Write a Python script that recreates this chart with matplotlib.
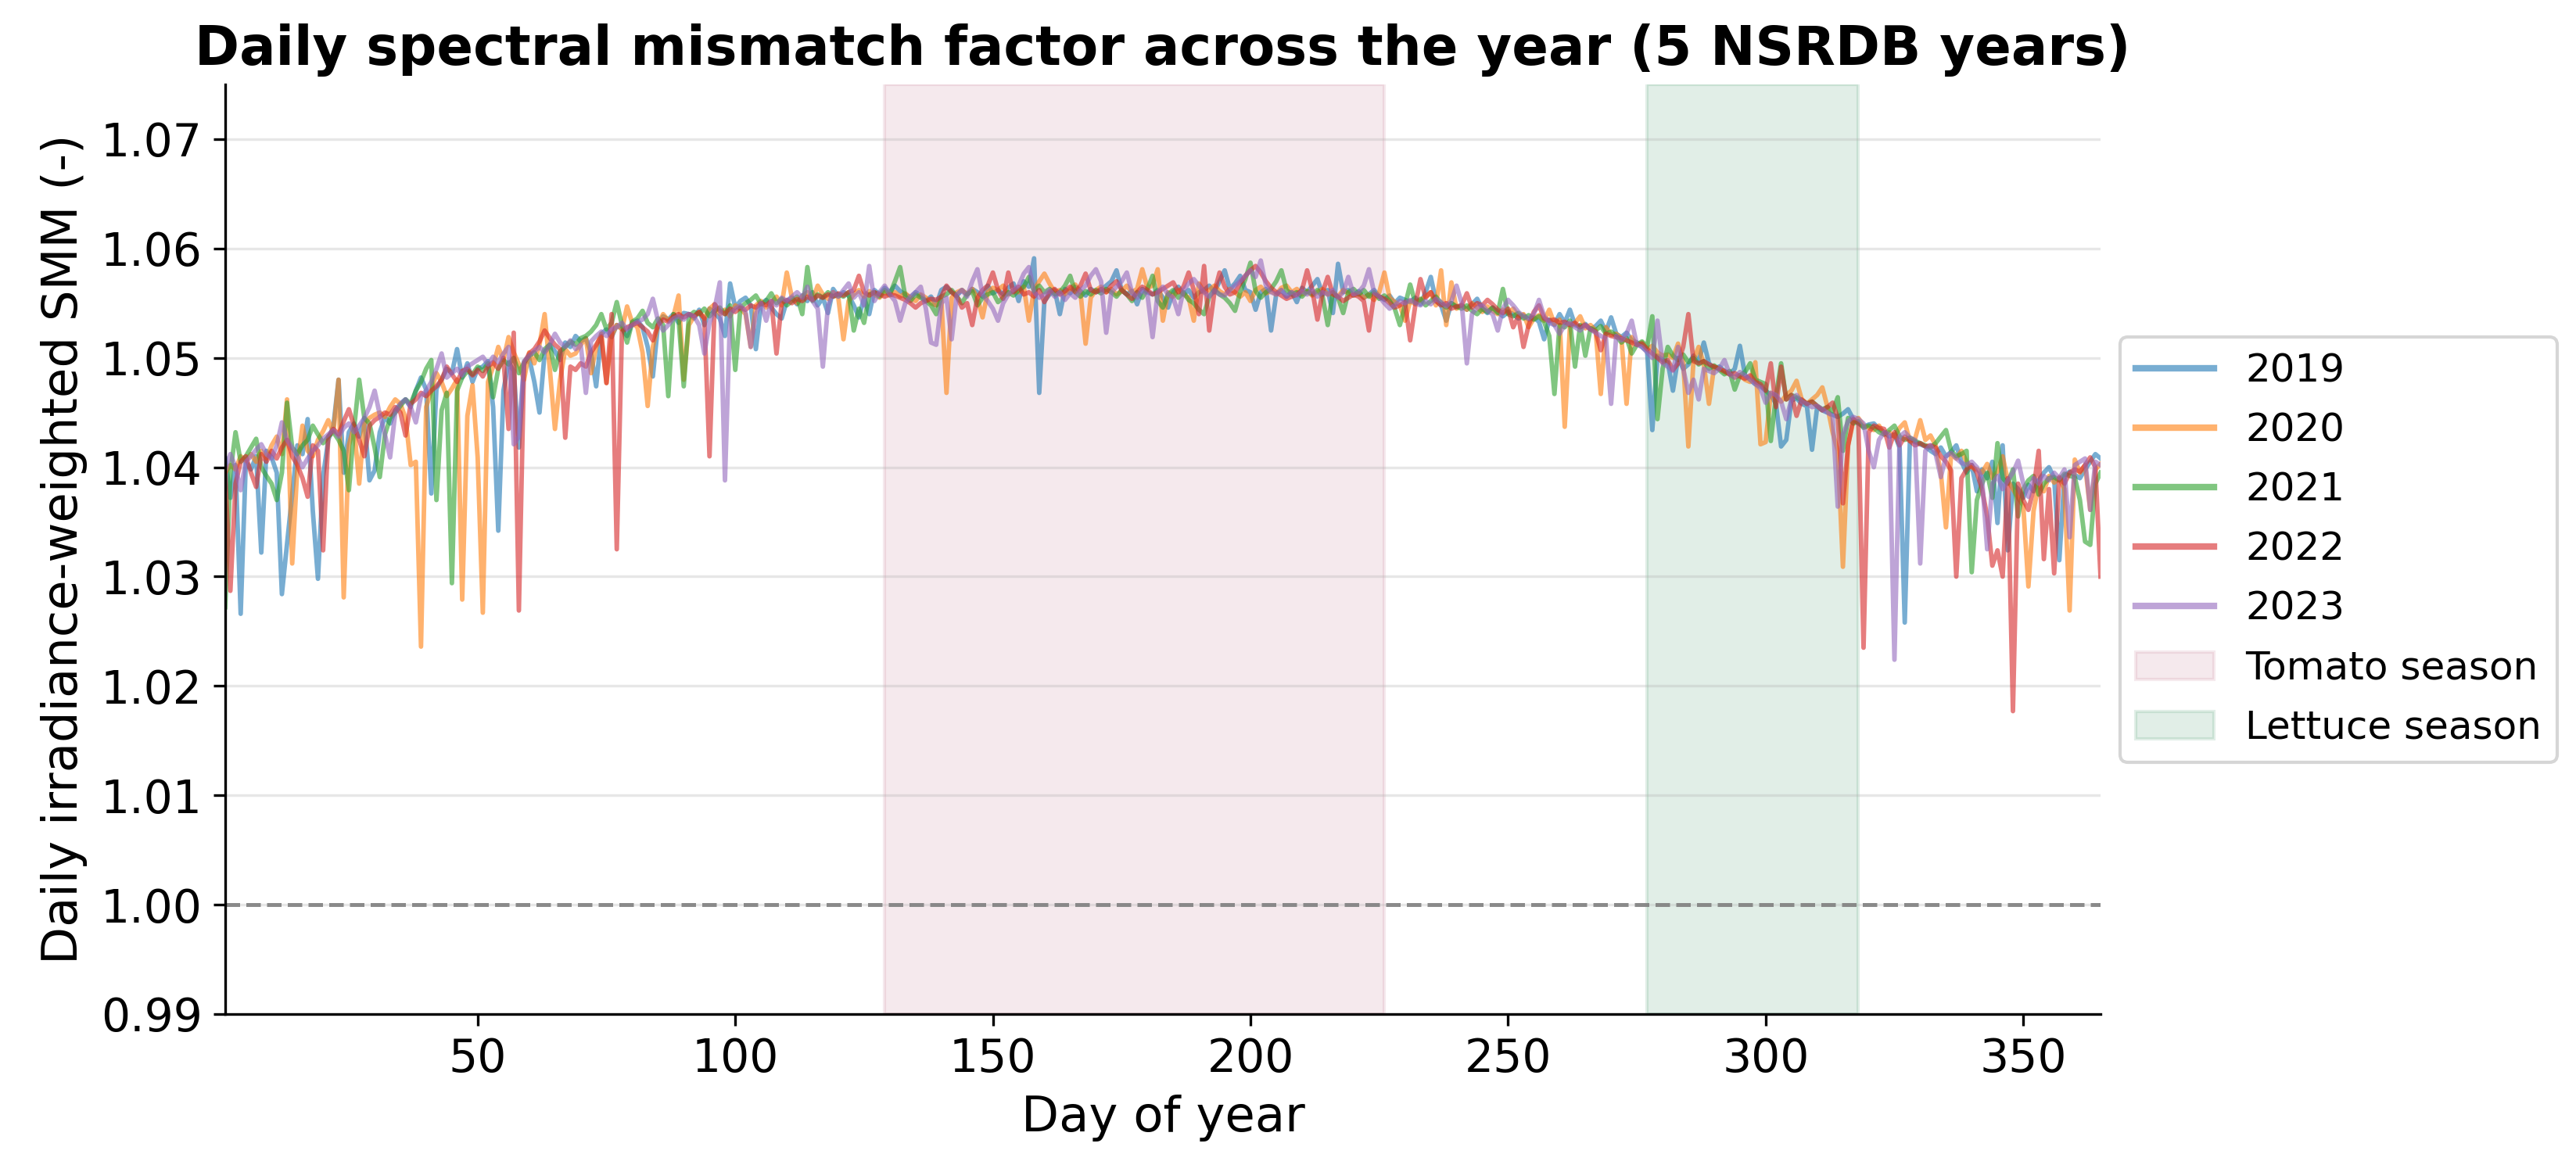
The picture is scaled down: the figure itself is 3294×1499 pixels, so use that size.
import numpy as np
import matplotlib
matplotlib.use("Agg")
import matplotlib.pyplot as plt

years = ["2019", "2020", "2021", "2022", "2023"]
days = list(range(1, 366))

smm_2019 = [
    1.0408, 1.0372, 1.0402, 1.0266, 1.0405, 1.0398, 1.0410, 1.0322, 1.0415, 1.0409,
    1.0395, 1.0284, 1.0330, 1.0375, 1.0420, 1.0412, 1.0444, 1.0360, 1.0298, 1.0392,
    1.0425, 1.0438, 1.0480, 1.0395, 1.0432, 1.0440, 1.0428, 1.0445, 1.0388, 1.0397,
    1.0432, 1.0446, 1.0440, 1.0452, 1.0458, 1.0462, 1.0455, 1.0470, 1.0482, 1.0471,
    1.0376, 1.0472, 1.0480, 1.0490, 1.0486, 1.0508, 1.0482, 1.0495, 1.0478, 1.0490,
    1.0492, 1.0497, 1.0455, 1.0342, 1.0470, 1.0496, 1.0488, 1.0418, 1.0494, 1.0500,
    1.0478, 1.0450, 1.0505, 1.0512, 1.0506, 1.0498, 1.0514, 1.0510, 1.0520, 1.0515,
    1.0518, 1.0505, 1.0474, 1.0522, 1.0526, 1.0519, 1.0530, 1.0527, 1.0520, 1.0532,
    1.0534, 1.0528, 1.0510, 1.0483, 1.0530, 1.0538, 1.0535, 1.0540, 1.0532, 1.0541,
    1.0540, 1.0536, 1.0544, 1.0530, 1.0545, 1.0541, 1.0536, 1.0520, 1.0568, 1.0546,
    1.0552, 1.0555, 1.0548, 1.0508, 1.0549, 1.0553, 1.0546, 1.0540, 1.0536, 1.0552,
    1.0555, 1.0549, 1.0557, 1.0552, 1.0560, 1.0548, 1.0555, 1.0541, 1.0563, 1.0556,
    1.0560, 1.0557, 1.0548, 1.0537, 1.0555, 1.0540, 1.0562, 1.0558, 1.0564, 1.0560,
    1.0566, 1.0561, 1.0558, 1.0555, 1.0560, 1.0557, 1.0552, 1.0556, 1.0548, 1.0562,
    1.0565, 1.0560, 1.0557, 1.0562, 1.0558, 1.0563, 1.0560, 1.0556, 1.0566, 1.0559,
    1.0562, 1.0558, 1.0564, 1.0568, 1.0552, 1.0570, 1.0565, 1.0591, 1.0468, 1.0552,
    1.0558, 1.0562, 1.0540, 1.0563, 1.0559, 1.0565, 1.0561, 1.0557, 1.0563, 1.0560,
    1.0562, 1.0566, 1.0570, 1.0580, 1.0562, 1.0558, 1.0561, 1.0549, 1.0563, 1.0560,
    1.0558, 1.0562, 1.0555, 1.0546, 1.0560, 1.0565, 1.0558, 1.0562, 1.0555, 1.0560,
    1.0562, 1.0566, 1.0560, 1.0570, 1.0580, 1.0563, 1.0568, 1.0575, 1.0562, 1.0560,
    1.0544, 1.0560, 1.0563, 1.0525, 1.0558, 1.0562, 1.0556, 1.0560, 1.0551, 1.0564,
    1.0560, 1.0566, 1.0572, 1.0558, 1.0562, 1.0541, 1.0586, 1.0560, 1.0562, 1.0557,
    1.0561, 1.0555, 1.0558, 1.0562, 1.0556, 1.0553, 1.0557, 1.0550, 1.0555, 1.0553,
    1.0551, 1.0555, 1.0549, 1.0560, 1.0574, 1.0552, 1.0548, 1.0534, 1.0550, 1.0546,
    1.0548, 1.0544, 1.0549, 1.0554, 1.0545, 1.0541, 1.0546, 1.0542, 1.0538, 1.0542,
    1.0540, 1.0536, 1.0539, 1.0535, 1.0537, 1.0533, 1.0517, 1.0535, 1.0530, 1.0540,
    1.0532, 1.0544, 1.0530, 1.0528, 1.0531, 1.0526, 1.0529, 1.0534, 1.0524, 1.0537,
    1.0522, 1.0519, 1.0523, 1.0516, 1.0514, 1.0510, 1.0506, 1.0434, 1.0502, 1.0498,
    1.0496, 1.0470, 1.0500, 1.0490, 1.0494, 1.0502, 1.0497, 1.0514, 1.0495, 1.0490,
    1.0492, 1.0488, 1.0485, 1.0490, 1.0511, 1.0484, 1.0480, 1.0476, 1.0474, 1.0470,
    1.0466, 1.0458, 1.0419, 1.0425, 1.0461, 1.0463, 1.0458, 1.0456, 1.0416, 1.0455,
    1.0452, 1.0450, 1.0448, 1.0446, 1.0449, 1.0453, 1.0444, 1.0440, 1.0437, 1.0439,
    1.0440, 1.0435, 1.0432, 1.0428, 1.0430, 1.0418, 1.0258, 1.0425, 1.0423, 1.0421,
    1.0419, 1.0415, 1.0412, 1.0418, 1.0410, 1.0414, 1.0420, 1.0405, 1.0395, 1.0402,
    1.0378, 1.0398, 1.0390, 1.0405, 1.0349, 1.0420, 1.0324, 1.0385, 1.0380, 1.0372,
    1.0384, 1.0378, 1.0388, 1.0395, 1.0400, 1.0390, 1.0315, 1.0392, 1.0396, 1.0393,
    1.0390, 1.0398, 1.0405, 1.0412, 1.0408,
]

smm_2020 = [
    1.0395, 1.0402, 1.0398, 1.0410, 1.0406, 1.0412, 1.0405, 1.0415, 1.0408, 1.0420,
    1.0428, 1.0412, 1.0462, 1.0312, 1.0400, 1.0438, 1.0415, 1.0410, 1.0425, 1.0433,
    1.0443, 1.0432, 1.0480, 1.0281, 1.0420, 1.0438, 1.0385, 1.0440, 1.0445, 1.0448,
    1.0450, 1.0446, 1.0455, 1.0462, 1.0458, 1.0445, 1.0402, 1.0405, 1.0236, 1.0455,
    1.0470, 1.0486, 1.0478, 1.0465, 1.0472, 1.0480, 1.0279, 1.0447, 1.0475, 1.0409,
    1.0267, 1.0478, 1.0492, 1.0510, 1.0498, 1.0519, 1.0505, 1.0494, 1.0480, 1.0505,
    1.0495, 1.0512, 1.0540, 1.0490, 1.0435, 1.0480, 1.0508, 1.0502, 1.0504, 1.0512,
    1.0518, 1.0486, 1.0510, 1.0522, 1.0477, 1.0520, 1.0530, 1.0526, 1.0547, 1.0532,
    1.0528, 1.0505, 1.0456, 1.0510, 1.0530, 1.0540, 1.0534, 1.0538, 1.0557, 1.0480,
    1.0530, 1.0538, 1.0542, 1.0536, 1.0545, 1.0549, 1.0540, 1.0544, 1.0538, 1.0548,
    1.0545, 1.0540, 1.0510, 1.0548, 1.0552, 1.0546, 1.0550, 1.0556, 1.0548, 1.0578,
    1.0555, 1.0550, 1.0556, 1.0560, 1.0553, 1.0566, 1.0558, 1.0554, 1.0560, 1.0555,
    1.0517, 1.0552, 1.0558, 1.0562, 1.0556, 1.0561, 1.0558, 1.0555, 1.0560, 1.0557,
    1.0560, 1.0556, 1.0559, 1.0555, 1.0552, 1.0558, 1.0555, 1.0550, 1.0548, 1.0553,
    1.0468, 1.0555, 1.0560, 1.0562, 1.0558, 1.0563, 1.0555, 1.0537, 1.0560, 1.0564,
    1.0562, 1.0566, 1.0558, 1.0562, 1.0560, 1.0565, 1.0534, 1.0562, 1.0570, 1.0577,
    1.0568, 1.0560, 1.0562, 1.0558, 1.0563, 1.0567, 1.0560, 1.0513, 1.0555, 1.0562,
    1.0565, 1.0560, 1.0563, 1.0558, 1.0561, 1.0566, 1.0560, 1.0563, 1.0581, 1.0564,
    1.0566, 1.0581, 1.0534, 1.0560, 1.0556, 1.0562, 1.0558, 1.0555, 1.0534, 1.0568,
    1.0560, 1.0562, 1.0566, 1.0561, 1.0558, 1.0563, 1.0560, 1.0556, 1.0560, 1.0552,
    1.0562, 1.0565, 1.0559, 1.0561, 1.0558, 1.0564, 1.0566, 1.0560, 1.0563, 1.0558,
    1.0561, 1.0557, 1.0560, 1.0563, 1.0558, 1.0560, 1.0556, 1.0562, 1.0559, 1.0557,
    1.0559, 1.0555, 1.0558, 1.0553, 1.0560, 1.0578, 1.0555, 1.0551, 1.0548, 1.0534,
    1.0552, 1.0549, 1.0553, 1.0556, 1.0560, 1.0548, 1.0580, 1.0530, 1.0569, 1.0545,
    1.0548, 1.0544, 1.0550, 1.0546, 1.0542, 1.0547, 1.0543, 1.0540, 1.0544, 1.0541,
    1.0545, 1.0538, 1.0540, 1.0528, 1.0536, 1.0539, 1.0534, 1.0544, 1.0531, 1.0535,
    1.0437, 1.0528, 1.0532, 1.0538, 1.0527, 1.0530, 1.0525, 1.0467, 1.0528, 1.0521,
    1.0522, 1.0518, 1.0458, 1.0519, 1.0512, 1.0514, 1.0508, 1.0511, 1.0505, 1.0502,
    1.0503, 1.0500, 1.0513, 1.0496, 1.0419, 1.0498, 1.0510, 1.0494, 1.0458, 1.0492,
    1.0490, 1.0487, 1.0485, 1.0482, 1.0484, 1.0480, 1.0478, 1.0496, 1.0421, 1.0423,
    1.0468, 1.0464, 1.0460, 1.0466, 1.0470, 1.0479, 1.0462, 1.0458, 1.0462, 1.0466,
    1.0473, 1.0455, 1.0432, 1.0415, 1.0309, 1.0420, 1.0442, 1.0445, 1.0438, 1.0436,
    1.0434, 1.0438, 1.0430, 1.0432, 1.0428, 1.0436, 1.0441, 1.0424, 1.0426, 1.0443,
    1.0425, 1.0429, 1.0420, 1.0395, 1.0345, 1.0412, 1.0408, 1.0415, 1.0405, 1.0400,
    1.0398, 1.0395, 1.0403, 1.0390, 1.0396, 1.0410, 1.0388, 1.0380, 1.0372, 1.0365,
    1.0291, 1.0360, 1.0385, 1.0378, 1.0392, 1.0386, 1.0390, 1.0380, 1.0269, 1.0407,
    1.0395, 1.0402, 1.0361, 1.0398, 1.0403,
]

smm_2021 = [
    1.0272, 1.0395, 1.0432, 1.0405, 1.0410, 1.0418, 1.0426, 1.0400, 1.0392, 1.0385,
    1.0370, 1.0395, 1.0459, 1.0418, 1.0412, 1.0420, 1.0425, 1.0438, 1.0430, 1.0422,
    1.0428, 1.0432, 1.0425, 1.0415, 1.0379, 1.0435, 1.0480, 1.0445, 1.0440, 1.0418,
    1.0391, 1.0430, 1.0445, 1.0450, 1.0456, 1.0462, 1.0458, 1.0470, 1.0478, 1.0490,
    1.0498, 1.0370, 1.0452, 1.0468, 1.0294, 1.0470, 1.0482, 1.0488, 1.0485, 1.0492,
    1.0488, 1.0495, 1.0464, 1.0490, 1.0498, 1.0494, 1.0500, 1.0486, 1.0496, 1.0502,
    1.0505, 1.0498, 1.0508, 1.0512, 1.0489, 1.0506, 1.0510, 1.0515, 1.0512, 1.0518,
    1.0520, 1.0524, 1.0530, 1.0540, 1.0526, 1.0532, 1.0551, 1.0530, 1.0514, 1.0533,
    1.0536, 1.0543, 1.0532, 1.0528, 1.0536, 1.0530, 1.0465, 1.0540, 1.0535, 1.0474,
    1.0538, 1.0542, 1.0540, 1.0545, 1.0538, 1.0543, 1.0546, 1.0540, 1.0548, 1.0489,
    1.0546, 1.0550, 1.0553, 1.0557, 1.0549, 1.0552, 1.0559, 1.0550, 1.0554, 1.0548,
    1.0552, 1.0556, 1.0540, 1.0583, 1.0552, 1.0558, 1.0555, 1.0560, 1.0556, 1.0558,
    1.0556, 1.0560, 1.0525, 1.0545, 1.0532, 1.0558, 1.0560, 1.0556, 1.0562, 1.0558,
    1.0570, 1.0583, 1.0556, 1.0552, 1.0558, 1.0555, 1.0552, 1.0548, 1.0540, 1.0556,
    1.0558, 1.0562, 1.0556, 1.0550, 1.0558, 1.0561, 1.0548, 1.0555, 1.0558, 1.0560,
    1.0551, 1.0555, 1.0560, 1.0557, 1.0562, 1.0565, 1.0574, 1.0561, 1.0566, 1.0560,
    1.0563, 1.0558, 1.0560, 1.0566, 1.0575, 1.0560, 1.0556, 1.0561, 1.0558, 1.0562,
    1.0559, 1.0563, 1.0560, 1.0556, 1.0562, 1.0558, 1.0552, 1.0560, 1.0555, 1.0563,
    1.0575, 1.0552, 1.0546, 1.0558, 1.0562, 1.0555, 1.0560, 1.0553, 1.0550, 1.0544,
    1.0540, 1.0556, 1.0562, 1.0558, 1.0555, 1.0550, 1.0543, 1.0560, 1.0572, 1.0587,
    1.0561, 1.0555, 1.0560, 1.0563, 1.0570, 1.0580, 1.0562, 1.0558, 1.0560, 1.0556,
    1.0561, 1.0558, 1.0562, 1.0556, 1.0530, 1.0560, 1.0555, 1.0541, 1.0560, 1.0563,
    1.0558, 1.0562, 1.0556, 1.0560, 1.0554, 1.0557, 1.0552, 1.0545, 1.0530, 1.0548,
    1.0567, 1.0550, 1.0554, 1.0548, 1.0552, 1.0556, 1.0550, 1.0546, 1.0550, 1.0547,
    1.0545, 1.0548, 1.0543, 1.0540, 1.0545, 1.0542, 1.0546, 1.0541, 1.0563, 1.0540,
    1.0538, 1.0541, 1.0536, 1.0539, 1.0535, 1.0538, 1.0533, 1.0520, 1.0467, 1.0530,
    1.0528, 1.0534, 1.0492, 1.0530, 1.0502, 1.0527, 1.0525, 1.0529, 1.0522, 1.0524,
    1.0520, 1.0514, 1.0518, 1.0504, 1.0512, 1.0515, 1.0510, 1.0538, 1.0444, 1.0490,
    1.0510, 1.0502, 1.0498, 1.0503, 1.0496, 1.0500, 1.0494, 1.0497, 1.0490, 1.0493,
    1.0489, 1.0485, 1.0488, 1.0471, 1.0484, 1.0487, 1.0495, 1.0480, 1.0478, 1.0476,
    1.0424, 1.0465, 1.0495, 1.0462, 1.0466, 1.0464, 1.0461, 1.0458, 1.0460, 1.0456,
    1.0453, 1.0455, 1.0451, 1.0464, 1.0415, 1.0445, 1.0440, 1.0442, 1.0436, 1.0438,
    1.0436, 1.0432, 1.0430, 1.0434, 1.0438, 1.0428, 1.0425, 1.0427, 1.0424, 1.0422,
    1.0420, 1.0418, 1.0422, 1.0428, 1.0434, 1.0415, 1.0410, 1.0412, 1.0415, 1.0304,
    1.0370, 1.0385, 1.0395, 1.0372, 1.0422, 1.0390, 1.0385, 1.0398, 1.0355, 1.0380,
    1.0388, 1.0392, 1.0375, 1.0385, 1.0390, 1.0391, 1.0388, 1.0394, 1.0392, 1.0391,
    1.0370, 1.0332, 1.0329, 1.0385, 1.0395,
]

smm_2022 = [
    1.0395, 1.0287, 1.0385, 1.0405, 1.0410, 1.0395, 1.0382, 1.0412, 1.0405, 1.0415,
    1.0408, 1.0418, 1.0425, 1.0410, 1.0402, 1.0390, 1.0373, 1.0420, 1.0415, 1.0324,
    1.0428, 1.0435, 1.0430, 1.0442, 1.0453, 1.0438, 1.0425, 1.0410, 1.0438, 1.0443,
    1.0446, 1.0450, 1.0448, 1.0455, 1.0450, 1.0429, 1.0458, 1.0462, 1.0468, 1.0465,
    1.0470, 1.0474, 1.0480, 1.0492, 1.0485, 1.0478, 1.0488, 1.0490, 1.0484, 1.0489,
    1.0483, 1.0492, 1.0496, 1.0490, 1.0500, 1.0435, 1.0523, 1.0269, 1.0495, 1.0504,
    1.0508, 1.0515, 1.0525, 1.0518, 1.0512, 1.0508, 1.0427, 1.0492, 1.0489, 1.0495,
    1.0492, 1.0505, 1.0512, 1.0520, 1.0477, 1.0540, 1.0325, 1.0524, 1.0528, 1.0530,
    1.0532, 1.0528, 1.0524, 1.0516, 1.0530, 1.0535, 1.0533, 1.0538, 1.0540, 1.0537,
    1.0540, 1.0538, 1.0542, 1.0536, 1.0410, 1.0549, 1.0543, 1.0540, 1.0545, 1.0542,
    1.0546, 1.0544, 1.0548, 1.0546, 1.0550, 1.0548, 1.0552, 1.0504, 1.0550, 1.0553,
    1.0550, 1.0554, 1.0552, 1.0556, 1.0553, 1.0557, 1.0555, 1.0558, 1.0556, 1.0559,
    1.0557, 1.0560, 1.0562, 1.0575, 1.0560, 1.0557, 1.0560, 1.0558, 1.0556, 1.0558,
    1.0557, 1.0555, 1.0553, 1.0550, 1.0546, 1.0550, 1.0552, 1.0554, 1.0553, 1.0556,
    1.0566, 1.0560, 1.0556, 1.0546, 1.0550, 1.0530, 1.0555, 1.0562, 1.0566, 1.0578,
    1.0562, 1.0554, 1.0578, 1.0560, 1.0565, 1.0558, 1.0560, 1.0556, 1.0562, 1.0551,
    1.0560, 1.0563, 1.0558, 1.0561, 1.0565, 1.0560, 1.0566, 1.0577, 1.0562, 1.0560,
    1.0563, 1.0560, 1.0566, 1.0570, 1.0562, 1.0558, 1.0554, 1.0560, 1.0565, 1.0562,
    1.0558, 1.0560, 1.0563, 1.0566, 1.0569, 1.0560, 1.0565, 1.0578, 1.0562, 1.0540,
    1.0584, 1.0525, 1.0560, 1.0578, 1.0565, 1.0558, 1.0560, 1.0568, 1.0575, 1.0580,
    1.0584, 1.0578, 1.0570, 1.0564, 1.0560, 1.0557, 1.0554, 1.0556, 1.0558, 1.0562,
    1.0580, 1.0562, 1.0535, 1.0560, 1.0574, 1.0558, 1.0556, 1.0552, 1.0555, 1.0558,
    1.0556, 1.0552, 1.0525, 1.0558, 1.0556, 1.0554, 1.0550, 1.0546, 1.0548, 1.0551,
    1.0516, 1.0548, 1.0572, 1.0555, 1.0560, 1.0552, 1.0548, 1.0550, 1.0545, 1.0547,
    1.0548, 1.0559, 1.0546, 1.0550, 1.0548, 1.0553, 1.0549, 1.0544, 1.0541, 1.0545,
    1.0528, 1.0538, 1.0510, 1.0530, 1.0542, 1.0548, 1.0536, 1.0534, 1.0535, 1.0532,
    1.0533, 1.0530, 1.0532, 1.0528, 1.0530, 1.0526, 1.0524, 1.0507, 1.0522, 1.0520,
    1.0519, 1.0518, 1.0516, 1.0514, 1.0512, 1.0513, 1.0508, 1.0504, 1.0500, 1.0496,
    1.0498, 1.0489, 1.0495, 1.0510, 1.0540, 1.0497, 1.0495, 1.0497, 1.0494, 1.0492,
    1.0490, 1.0488, 1.0485, 1.0486, 1.0483, 1.0481, 1.0484, 1.0478, 1.0476, 1.0470,
    1.0495, 1.0455, 1.0492, 1.0462, 1.0466, 1.0447, 1.0462, 1.0458, 1.0460, 1.0456,
    1.0452, 1.0455, 1.0459, 1.0445, 1.0367, 1.0420, 1.0444, 1.0440, 1.0235, 1.0432,
    1.0438, 1.0436, 1.0435, 1.0418, 1.0432, 1.0420, 1.0428, 1.0424, 1.0420, 1.0422,
    1.0419, 1.0420, 1.0418, 1.0410, 1.0405, 1.0397, 1.0300, 1.0390, 1.0398, 1.0402,
    1.0395, 1.0380, 1.0355, 1.0310, 1.0324, 1.0300, 1.0390, 1.0177, 1.0385, 1.0370,
    1.0361, 1.0380, 1.0415, 1.0316, 1.0380, 1.0303, 1.0391, 1.0385, 1.0395, 1.0398,
    1.0396, 1.0402, 1.0409, 1.0400, 1.0300,
]

smm_2023 = [
    1.0398, 1.0412, 1.0400, 1.0379, 1.0405, 1.0410, 1.0416, 1.0421, 1.0412, 1.0408,
    1.0420, 1.0441, 1.0425, 1.0418, 1.0410, 1.0400, 1.0408, 1.0415, 1.0420, 1.0426,
    1.0430, 1.0434, 1.0428, 1.0436, 1.0440, 1.0432, 1.0438, 1.0445, 1.0455, 1.0470,
    1.0448, 1.0430, 1.0409, 1.0450, 1.0458, 1.0462, 1.0455, 1.0441, 1.0465, 1.0470,
    1.0478, 1.0490, 1.0504, 1.0482, 1.0486, 1.0490, 1.0484, 1.0492, 1.0495, 1.0498,
    1.0501, 1.0494, 1.0501, 1.0496, 1.0504, 1.0510, 1.0421, 1.0428, 1.0497, 1.0502,
    1.0506, 1.0510, 1.0505, 1.0512, 1.0522, 1.0514, 1.0510, 1.0516, 1.0508, 1.0512,
    1.0468, 1.0515, 1.0520, 1.0524, 1.0520, 1.0526, 1.0528, 1.0532, 1.0526, 1.0530,
    1.0533, 1.0535, 1.0540, 1.0554, 1.0534, 1.0525, 1.0530, 1.0536, 1.0538, 1.0535,
    1.0540, 1.0538, 1.0530, 1.0504, 1.0532, 1.0545, 1.0569, 1.0388, 1.0540, 1.0545,
    1.0548, 1.0542, 1.0510, 1.0540, 1.0550, 1.0534, 1.0552, 1.0548, 1.0555, 1.0552,
    1.0556, 1.0560, 1.0555, 1.0565, 1.0552, 1.0545, 1.0492, 1.0548, 1.0560, 1.0556,
    1.0562, 1.0568, 1.0555, 1.0560, 1.0548, 1.0584, 1.0552, 1.0560, 1.0566, 1.0558,
    1.0552, 1.0534, 1.0550, 1.0556, 1.0560, 1.0565, 1.0545, 1.0514, 1.0512, 1.0550,
    1.0555, 1.0517, 1.0558, 1.0562, 1.0556, 1.0570, 1.0581, 1.0558, 1.0552, 1.0545,
    1.0534, 1.0550, 1.0558, 1.0562, 1.0566, 1.0577, 1.0583, 1.0560, 1.0555, 1.0558,
    1.0562, 1.0556, 1.0560, 1.0553, 1.0559, 1.0555, 1.0562, 1.0566, 1.0575, 1.0581,
    1.0570, 1.0523, 1.0560, 1.0565, 1.0570, 1.0578, 1.0560, 1.0555, 1.0562, 1.0558,
    1.0519, 1.0560, 1.0565, 1.0558, 1.0555, 1.0540, 1.0562, 1.0568, 1.0572, 1.0566,
    1.0560, 1.0556, 1.0562, 1.0558, 1.0557, 1.0562, 1.0566, 1.0570, 1.0575, 1.0580,
    1.0574, 1.0589, 1.0566, 1.0560, 1.0558, 1.0562, 1.0556, 1.0560, 1.0557, 1.0561,
    1.0558, 1.0562, 1.0556, 1.0560, 1.0558, 1.0562, 1.0555, 1.0560, 1.0574, 1.0558,
    1.0560, 1.0566, 1.0581, 1.0560, 1.0556, 1.0550, 1.0545, 1.0548, 1.0552, 1.0550,
    1.0553, 1.0550, 1.0548, 1.0552, 1.0549, 1.0554, 1.0551, 1.0547, 1.0552, 1.0566,
    1.0550, 1.0495, 1.0540, 1.0546, 1.0548, 1.0543, 1.0540, 1.0525, 1.0545, 1.0553,
    1.0548, 1.0542, 1.0538, 1.0536, 1.0540, 1.0553, 1.0538, 1.0532, 1.0530, 1.0522,
    1.0530, 1.0532, 1.0528, 1.0525, 1.0530, 1.0526, 1.0523, 1.0520, 1.0518, 1.0458,
    1.0520, 1.0516, 1.0522, 1.0534, 1.0512, 1.0510, 1.0505, 1.0500, 1.0534, 1.0495,
    1.0492, 1.0488, 1.0510, 1.0490, 1.0468, 1.0480, 1.0462, 1.0490, 1.0488, 1.0486,
    1.0490, 1.0498, 1.0485, 1.0482, 1.0487, 1.0484, 1.0480, 1.0476, 1.0472, 1.0459,
    1.0468, 1.0466, 1.0460, 1.0444, 1.0462, 1.0466, 1.0460, 1.0458, 1.0455, 1.0456,
    1.0453, 1.0450, 1.0447, 1.0364, 1.0430, 1.0442, 1.0446, 1.0444, 1.0440, 1.0415,
    1.0400, 1.0425, 1.0432, 1.0430, 1.0224, 1.0428, 1.0432, 1.0427, 1.0425, 1.0312,
    1.0415, 1.0420, 1.0412, 1.0391, 1.0410, 1.0413, 1.0408, 1.0404, 1.0402, 1.0405,
    1.0400, 1.0390, 1.0325, 1.0385, 1.0392, 1.0380, 1.0388, 1.0395, 1.0406, 1.0385,
    1.0373, 1.0390, 1.0385, 1.0392, 1.0388, 1.0395, 1.0390, 1.0398, 1.0336, 1.0402,
    1.0405, 1.0408, 1.0361, 1.0405, 1.0402,
]

series = [smm_2019, smm_2020, smm_2021, smm_2022, smm_2023]
line_colors = ["#1f77b4", "#ff7f0e", "#2ca02c", "#d62728", "#9467bd"]

tomato_season = (129, 226)
lettuce_season = (277, 318)
y_ticks = [0.99, 1.00, 1.01, 1.02, 1.03, 1.04, 1.05, 1.06, 1.07]
x_ticks = [50, 100, 150, 200, 250, 300, 350]

fig = plt.figure(figsize=(3295 / 300, 1499 / 300), dpi=300)
ax = fig.add_axes([288 / 3295, 1 - 1297 / 1499, (2686 - 288) / 3295, (1297 - 108) / 1499])

for lab, vals, col in zip(years, series, line_colors):
    ax.plot(days, vals, color=col, lw=1.4, alpha=0.6, label=lab)

ax.axvspan(tomato_season[0], tomato_season[1], color="#B4506E", alpha=0.12,
           label="Tomato season", zorder=0)
ax.axvspan(lettuce_season[0], lettuce_season[1], color="#2E8B57", alpha=0.14,
           label="Lettuce season", zorder=0)
ax.axhline(1.0, color="gray", ls="--", lw=1.2, alpha=0.9)

ax.set_xlim(1, 365)
ax.set_ylim(0.99, 1.075)
ax.set_yticks(y_ticks)
ax.set_yticklabels([f"{t:.2f}" for t in y_ticks])
ax.set_xticks(x_ticks)
ax.tick_params(labelsize=14)
ax.grid(axis="y", alpha=0.3)
ax.set_axisbelow(True)
for s in ["top", "right"]:
    ax.spines[s].set_visible(False)

ax.set_xlabel("Day of year", fontsize=15)
ax.set_ylabel("Daily irradiance-weighted SMM (-)", fontsize=15)
ax.set_title("Daily spectral mismatch factor across the year (5 NSRDB years)",
             fontsize=16.5, fontweight="bold")
leg = ax.legend(loc="center left", bbox_to_anchor=(1.0, 0.5), fontsize=12,
                labelspacing=0.56)
for h in leg.get_lines():
    h.set_linewidth(2.0)

fig.savefig("out.png", dpi=300)
